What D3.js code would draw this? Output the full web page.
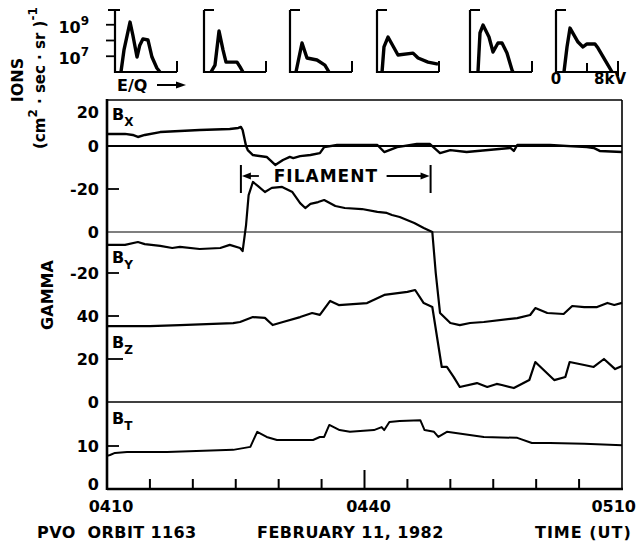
<!DOCTYPE html>
<html>
<head>
<meta charset="utf-8">
<script src="https://cdn.jsdelivr.net/npm/d3@7"></script>
<style>
  body { margin: 0; background: #fff; }
  svg { display: block; font-family: "DejaVu Sans", sans-serif; font-weight: bold; }
</style>
</head>
<body>
<div id="chart"></div>
<script>
// magnetic field, [minutes after 0410 UT, gamma]
const bxPoints = [[0,7.1],[2.1,7.1],[3.0,6.5],[3.6,5.3],[4.4,6.5],[6.2,8.2],[10.8,9.4],[14.3,10],[15.3,10.6],[15.6,11.2],[15.8,9.4],
  [16.2,0],[16.4,-1.9],[17.0,-4.2],[18.6,-5.1],[19.6,-8.8],[20.5,-6.5],[21.3,-5.1],[21.7,-5.6],[22.5,-4.7],[23.7,-4.2],[24.8,-3.3],
  [25.3,-0.5],[26.8,0.6],[31.5,0.6],[32.3,-2.8],[33.8,-0.5],[36.1,1.2],[37.6,1.2],[38.8,-3.3],[40.0,-1.9],[41.9,-2.8],[47.0,-0.9],
  [47.4,-2.3],[47.8,0.6],[51.6,0.6],[55.9,-0.5],[56.7,-0.9],[57.4,-2.3],[60,-2.8]];
const byPoints = [[0,-6.3],[2.1,-6.3],[3.6,-4.9],[4.4,-5.9],[6.2,-6.8],[7.6,-7.8],[8.5,-7.3],[10.8,-8.3],[13.2,-7.8],[14.3,-6.3],
  [15.5,-7.8],[15.8,-9.3],[16.2,3.4],[16.5,18],[17.0,24.4],[17.6,22.4],[18.4,19.5],[19.2,21.5],[20.4,22],[21.6,19.5],[22.5,14.1],
  [23.1,11.7],[23.7,13.7],[24.6,14.6],[25.3,15.6],[26.6,12.7],[27.7,11.7],[29.7,11.2],[31.5,9.8],[32.6,9.3],[33.2,8.3],[34.1,7.3],
  [35.8,4.4],[36.9,2],[37.9,0],[38.3,-20],[38.8,-39.5],[40.0,-44.4],[41.1,-45.4],[42.3,-44.4],[43.9,-43.9],[47.8,-42],[49.3,-40.5],
  [49.9,-37.1],[51.3,-39.5],[53.2,-40],[54.2,-36.1],[55.6,-36.6],[57.1,-36.6],[58.3,-34.6],[59.1,-35.6],[60,-34.6]];
const bzPoints = [[0,35.3],[5.0,35.3],[8.5,35.8],[14.7,36.7],[15.5,37.2],[17.0,39.5],[18.4,39.1],[19.3,35.8],[20.5,37.2],[22.5,39.5],
  [23.9,41.4],[24.8,40.5],[26.0,47],[27.0,45.1],[30.3,46],[32.3,49.8],[35.0,51.2],[35.9,52.1],[36.9,46],[37.9,44.2],[39.0,16.3],
  [39.6,16.3],[40.4,11.6],[41.1,7],[43.1,8.8],[44.3,7],[45.4,8.4],[46.0,7.9],[47.4,6.5],[49.2,10.2],[49.9,18.6],[52.1,10.2],
  [53.4,11.6],[53.9,18.6],[55.6,17.2],[56.7,16.3],[57.9,20],[59.2,15.3],[60,16.7]];
const btPoints = [[0,7.7],[0.35,7.9],[0.93,8.4],[2.33,8.6],[7.0,8.6],[14.7,9.1],[16.7,9.8],[17.5,13.3],[18.6,12.1],[19.8,11.4],
  [24.0,11.4],[24.8,12.1],[25.3,12.1],[25.9,14.9],[27.1,13.7],[28.3,13.3],[31.1,13.7],[32.0,14.4],[32.3,13.7],[32.9,15.6],[34.1,15.8],
  [36.5,16.0],[37.0,13.7],[38.1,13.3],[38.6,12.1],[39.6,13.3],[43.9,12.1],[47.8,11.9],[49.5,10.7],[51.6,10.7],[55.6,10.5],[60,10.2]];

// ion spectra, [E/Q in kV, log10 flux]
const spectrum1 = [[0.77,6],[1.16,7.4],[1.94,9.17],[2.3,8.35],[2.84,6.95],[3.2,7.7],[3.6,8.1],[4.26,8.03],[4.77,6.95],[5.4,6.25],[5.8,6]];
const spectrum2 = [[0.9,6],[1.42,6.44],[1.94,8.6],[2.45,7.4],[2.84,6.63],[4.26,6.63],[4.65,6.32],[5.03,6]];
const spectrum3 = [[0.77,6],[1.55,7.84],[2.19,6.89],[3.48,6.76],[4.5,6.44],[5.03,6]];
const spectrum4 = [[0.65,6],[0.9,7.59],[1.42,8.22],[2.71,7.08],[4.65,7.2],[5.3,6.89],[6.58,6.63],[7.87,6.5]];
const spectrum5 = [[1.03,6],[1.29,8.48],[1.68,8.98],[2.45,8.22],[2.97,7.27],[3.61,7.84],[4.13,7.84],[4.77,7.2],[5.42,6.13],[5.55,6]];
const spectrum6 = [[1.03,6],[1.42,7.59],[1.81,8.79],[2.84,7.9],[3.48,7.59],[4.0,7.78],[5.03,7.78],[5.42,7.52],[6.71,6.44],[7.23,6]];
const spectra = [spectrum1, spectrum2, spectrum3, spectrum4, spectrum5, spectrum6];

const bxTicks = [20, 0, -20];
const byTicks = [0, -20];
const bzTicks = [40, 20, 0];
const btTicks = [10, 0];
const bxTickLabels = ["20", "0", "-20"];
const byTickLabels = ["0", "-20"];
const bzTickLabels = ["40", "20", "0"];
const btTickLabels = ["10", "0"];
const timeTicks = [5, 10, 15, 20, 25, 30, 35, 40, 45, 50, 55];
const timeLabelAt = [0, 30, 60];
const timeLabels = ["0410", "0440", "0510"];
const filament = [15.6, 37.7];

const W = 637, H = 541;
const pL = 107, pR = 622, pT = 100, pB = 489;

const svg = d3.select("#chart").append("svg").attr("width", W).attr("height", H);

const x = d3.scaleLinear().domain([0, 60]).range([pL, pR]);
const yBx = d3.scaleLinear().domain([-20, 0, 20]).range([189, 146, 112]);
const yBy = d3.scaleLinear().domain([-20, 0]).range([273, 232]);
const yBz = d3.scaleLinear().domain([0, 40]).range([402, 316]);
const yBt = d3.scaleLinear().domain([0, 10]).range([489, 446]);

// frame
const frame = svg.append("g").attr("stroke", "#000").attr("fill", "none");
frame.append("line").attr("x1", pL).attr("x2", pR).attr("y1", pT).attr("y2", pT).attr("stroke-width", 1.5);
frame.append("line").attr("x1", pR).attr("x2", pR).attr("y1", pT).attr("y2", pB).attr("stroke-width", 1.6);
frame.append("line").attr("x1", pL).attr("x2", pL).attr("y1", pT - 1).attr("y2", pB + 1).attr("stroke-width", 2.6);
frame.append("line").attr("x1", pL).attr("x2", pR + 1).attr("y1", pB).attr("y2", pB).attr("stroke-width", 2.6);
frame.append("line").attr("x1", pL).attr("x2", pR).attr("y1", yBx(0)).attr("y2", yBx(0)).attr("stroke-width", 2.2);
frame.append("line").attr("x1", pL).attr("x2", pR).attr("y1", yBy(0)).attr("y2", yBy(0)).attr("stroke-width", 1.2);
frame.append("line").attr("x1", pL).attr("x2", pR).attr("y1", yBz(0)).attr("y2", yBz(0)).attr("stroke-width", 1.4);

// time ticks
frame.selectAll(".tt").data(timeTicks).join("line")
  .attr("x1", d => x(d)).attr("x2", d => x(d))
  .attr("y1", pB).attr("y2", d => d === 30 ? pB - 19 : pB - 10)
  .attr("stroke-width", 2);
svg.selectAll(".tl").data(timeLabelAt).join("text")
  .attr("x", d => d === 60 ? W - 1 : x(d) + 4).attr("y", 512)
  .attr("text-anchor", d => d === 60 ? "end" : "middle").attr("font-size", 16)
  .text((d, i) => timeLabels[i]);

// left ticks and labels per panel
const panels = [
  { pts: bxPoints, y: yBx, ticks: bxTicks, labels: bxTickLabels, marks: [-20], sub: "X", by: 120, w: 2.4 },
  { pts: byPoints, y: yBy, ticks: byTicks, labels: byTickLabels, marks: [-20], sub: "Y", by: 263, w: 2.2 },
  { pts: bzPoints, y: yBz, ticks: bzTicks, labels: bzTickLabels, marks: [40, 20], sub: "Z", by: 348, w: 2.2 },
  { pts: btPoints, y: yBt, ticks: btTicks, labels: btTickLabels, marks: [10], sub: "T", by: 424, w: 2 }
];
const line = d3.line();
panels.forEach(p => {
  svg.append("g").selectAll("text").data(p.ticks).join("text")
    .attr("x", 99).attr("y", d => p.y(d) === pB ? pB - 5 : p.y(d)).attr("dy", "0.36em")
    .attr("text-anchor", "end").attr("font-size", 16)
    .text((d, i) => p.labels[i]);
  svg.append("g").selectAll("line").data(p.marks).join("line")
    .attr("x1", pL).attr("x2", d => pL + (d === 20 && p.sub === "Z" ? 16 : 12))
    .attr("y1", d => p.y(d)).attr("y2", d => p.y(d))
    .attr("stroke", "#000").attr("stroke-width", 1.8);
  const lab = svg.append("text").attr("x", 112).attr("y", p.by).attr("font-size", 16);
  lab.append("tspan").text("B");
  lab.append("tspan").attr("dy", 6).attr("font-size", 12).text(p.sub);
  svg.append("path")
    .attr("d", line(p.pts.map(d => [x(d[0]), p.y(d[1])])))
    .attr("fill", "none").attr("stroke", "#000")
    .attr("stroke-width", p.w).attr("stroke-linejoin", "round");
});

// filament annotation
const fa = svg.append("g");
const fl = x(filament[0]), fr = x(filament[1]);
[fl, fr].forEach(v => fa.append("line").attr("x1", v).attr("x2", v).attr("y1", 165).attr("y2", 193)
  .attr("stroke", "#000").attr("stroke-width", 2));
fa.append("line").attr("x1", fl + 8).attr("x2", fl + 18).attr("y1", 176).attr("y2", 176).attr("stroke", "#000").attr("stroke-width", 1.8);
fa.append("path").attr("d", `M${fl + 1},176 L${fl + 10},172.5 L${fl + 10},179.5 Z`);
fa.append("line").attr("x1", fr - 44).attr("x2", fr - 8).attr("y1", 176).attr("y2", 176).attr("stroke", "#000").attr("stroke-width", 1.8);
fa.append("path").attr("d", `M${fr - 1},176 L${fr - 10},172.5 L${fr - 10},179.5 Z`);
fa.append("text").attr("x", fl + 85).attr("y", 182).attr("text-anchor", "middle")
  .attr("font-size", 17).attr("letter-spacing", 1).text("FILAMENT");

// ion spectra
const specLeft = [115, 204, 290, 377, 470, 556];
const specW = 62;
const ySpec = d3.scaleLinear().domain([6, 10]).range([72, 9]);
spectra.forEach((s, i) => {
  const xs = d3.scaleLinear().domain([0, 8]).range([specLeft[i], specLeft[i] + specW]);
  const g = svg.append("g").attr("stroke", "#000").attr("fill", "none");
  g.append("path").attr("d", `M${xs(0)},${ySpec(10) + 1} V${ySpec(6)} H${xs(8)}`).attr("stroke-width", 2.2);
  g.append("line").attr("x1", xs(8)).attr("x2", xs(8)).attr("y1", ySpec(6) - 11).attr("y2", i === 5 ? ySpec(6) + 4 : ySpec(6)).attr("stroke-width", 2);
  if (i === 0) {
    g.append("line").attr("x1", xs(0) - 7).attr("x2", xs(0) + 5).attr("y1", ySpec(10) + 1).attr("y2", ySpec(10) + 1).attr("stroke-width", 2);
    g.selectAll(".lt").data([9, 8, 7]).join("line")
      .attr("x1", xs(0) - 9).attr("x2", xs(0)).attr("y1", d => ySpec(d)).attr("y2", d => ySpec(d)).attr("stroke-width", 1.8);
  } else {
    g.append("line").attr("x1", xs(0)).attr("x2", xs(0) + 10).attr("y1", ySpec(10) + 1).attr("y2", ySpec(10) + 1).attr("stroke-width", 2);
  }
  if (i === 5) {
    g.append("line").attr("x1", xs(4)).attr("x2", xs(4)).attr("y1", ySpec(6) - 9).attr("y2", ySpec(6)).attr("stroke-width", 2);
  }
  g.append("path").attr("d", line(s.map(d => [xs(d[0]), ySpec(d[1])])))
    .attr("stroke-width", 3.4).attr("stroke-linejoin", "round");
});
[[9, "9"], [7, "7"]].forEach(([v, t]) => {
  const tx = svg.append("text").attr("x", 89).attr("y", ySpec(v) + 8).attr("text-anchor", "end").attr("font-size", 16);
  tx.append("tspan").text("10");
  tx.append("tspan").attr("dy", -8).attr("font-size", 12).text(t);
});
svg.append("text").attr("x", 117).attr("y", 91).attr("font-size", 16).text("E/Q");
svg.append("line").attr("x1", 157).attr("x2", 178).attr("y1", 85).attr("y2", 85).attr("stroke", "#000").attr("stroke-width", 2);
svg.append("path").attr("d", "M186,85 L176,81.5 L176,88.5 Z");
svg.append("text").attr("x", 556).attr("y", 84).attr("text-anchor", "middle").attr("font-size", 15).text("0");
svg.append("text").attr("x", 594).attr("y", 84).attr("font-size", 15).text("8kV");

// axis titles
svg.append("text").attr("transform", "translate(23,80) rotate(-90)").attr("text-anchor", "middle")
  .attr("font-size", 16).text("IONS");
const unit = svg.append("text").attr("transform", "translate(45,149) rotate(-90)").attr("font-size", 15);
unit.append("tspan").text("(cm");
unit.append("tspan").attr("dy", -8).attr("font-size", 12).text("2");
unit.append("tspan").attr("dy", 8).text(" · sec · sr )");
unit.append("tspan").attr("dy", -8).attr("font-size", 12).text("-1");
svg.append("text").attr("transform", "translate(53,295) rotate(-90)").attr("text-anchor", "middle")
  .attr("font-size", 16).text("GAMMA");

// footer
svg.append("text").attr("x", 37).attr("y", 538).attr("font-size", 16).attr("letter-spacing", 0.4).attr("xml:space", "preserve").text("PVO  ORBIT 1163");
svg.append("text").attr("x", 257).attr("y", 538).attr("font-size", 16).attr("letter-spacing", 0.5).text("FEBRUARY 11, 1982");
svg.append("text").attr("x", 535).attr("y", 538).attr("font-size", 16).attr("letter-spacing", 1).text("TIME (UT)");
</script>
</body>
</html>
